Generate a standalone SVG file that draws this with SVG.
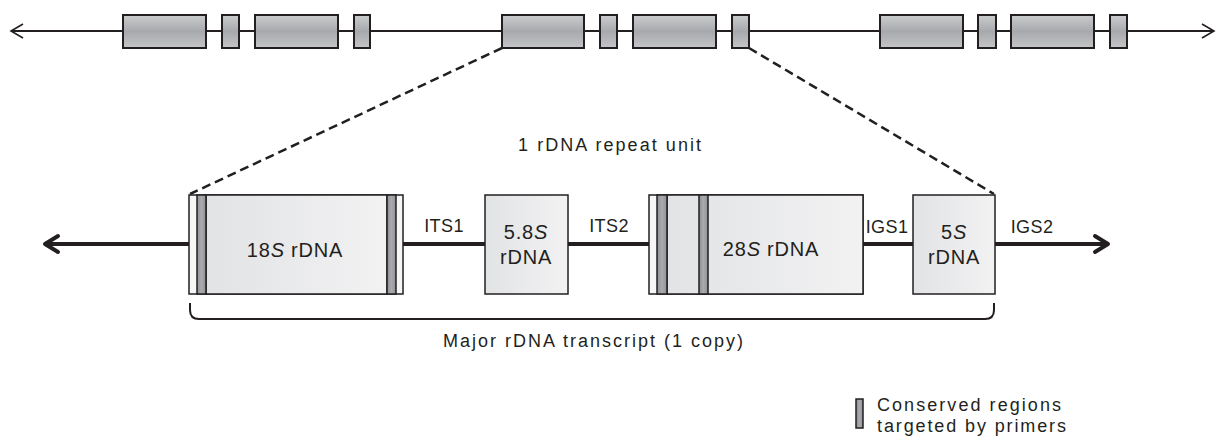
<svg xmlns="http://www.w3.org/2000/svg" width="1223" height="441" viewBox="0 0 1223 441">
  <defs>
    <linearGradient id="unitFill" x1="0" y1="0" x2="0" y2="1">
      <stop offset="0" stop-color="#caccce"/>
      <stop offset="0.5" stop-color="#a7a9ac"/>
      <stop offset="1" stop-color="#c3c5c7"/>
    </linearGradient>
    <linearGradient id="geneFill" x1="0" y1="0" x2="1" y2="0">
      <stop offset="0" stop-color="#e2e3e5"/>
      <stop offset="1" stop-color="#f2f2f3"/>
    </linearGradient>
    <linearGradient id="primerFill" x1="0" y1="0" x2="1" y2="0">
      <stop offset="0" stop-color="#8e9093"/>
      <stop offset="0.5" stop-color="#a9abae"/>
      <stop offset="1" stop-color="#8e9093"/>
    </linearGradient>
    <style>
      .axis { stroke: #231f20; stroke-width: 2; fill: none; }
      .head { stroke: #231f20; stroke-width: 1.6; fill: none; }
      .unit { fill: url(#unitFill); stroke: #231f20; stroke-width: 2; }
      .zoom { stroke: #231f20; stroke-width: 2.5; stroke-dasharray: 9 5; fill: none; }
      .spacer { stroke: #231f20; stroke-width: 4; fill: none; }
      .bighead { stroke: #231f20; stroke-width: 4; fill: none; stroke-linecap: round; stroke-linejoin: round; }
      .gene { fill: url(#geneFill); stroke: #231f20; stroke-width: 1.5; }
      .flank { fill: #f6f6f6; stroke: #231f20; stroke-width: 1.5; }
      .primer { fill: url(#primerFill); stroke: #231f20; stroke-width: 1.5; }
      .brace { stroke: #231f20; stroke-width: 2; fill: none; }
      text { font-family: "Liberation Sans", Arial, sans-serif; fill: #231f20; }
      .lbl { font-size: 18px; }
      .glbl { font-size: 20px; text-anchor: middle; letter-spacing: 0.8px; }
      .slbl { font-size: 18px; text-anchor: middle; letter-spacing: 0.4px; }
    </style>
  </defs>

  <!-- tandem array of repeat units -->
  <g id="array">
    <line class="axis" x1="11" y1="31" x2="1214" y2="31"/>
    <polyline class="head" points="23,24 11,31 23,38"/>
    <polyline class="head" points="1202,24 1214,31 1202,38"/>
    <g id="unit-1">
      <rect class="unit" x="123" y="15" width="83" height="33"/>
      <rect class="unit" x="222" y="15" width="17" height="33"/>
      <rect class="unit" x="255" y="15" width="83" height="33"/>
      <rect class="unit" x="354" y="15" width="16" height="33"/>
    </g>
    <g id="unit-2">
      <rect class="unit" x="502" y="15" width="82" height="33"/>
      <rect class="unit" x="600" y="15" width="17" height="33"/>
      <rect class="unit" x="633" y="15" width="83" height="33"/>
      <rect class="unit" x="732" y="15" width="17" height="33"/>
    </g>
    <g id="unit-3">
      <rect class="unit" x="880" y="15" width="83" height="33"/>
      <rect class="unit" x="978" y="15" width="18" height="33"/>
      <rect class="unit" x="1011" y="15" width="83" height="33"/>
      <rect class="unit" x="1110" y="15" width="17" height="33"/>
    </g>
  </g>

  <!-- expansion lines and spacer connectors -->
  <g id="connectors">
    <line class="zoom" x1="502" y1="48" x2="190" y2="194"/>
    <line class="zoom" x1="749" y1="48" x2="994" y2="194"/>
    <line class="spacer" x1="46" y1="244" x2="189" y2="244"/>
    <polyline class="bighead" points="58,236 45,244 58,252"/>
    <line class="spacer" x1="403" y1="244" x2="485" y2="244"/>
    <line class="spacer" x1="568" y1="244" x2="649" y2="244"/>
    <line class="spacer" x1="863" y1="244" x2="913" y2="244"/>
    <line class="spacer" x1="995" y1="244" x2="1106" y2="244"/>
    <polyline class="bighead" points="1095,236 1108,244 1095,252"/>
  </g>

  <text class="lbl" x="518" y="151" textLength="183" lengthAdjust="spacing">1 rDNA repeat unit</text>

  <g id="gene-18S">
    <rect class="flank" x="189" y="195" width="214" height="99"/>
    <rect class="gene" x="206" y="195" width="181" height="99"/>
    <rect class="primer" x="197" y="195" width="9" height="99"/>
    <rect class="primer" x="387" y="195" width="9" height="99"/>
    <text class="glbl" x="295" y="257">18<tspan font-style="italic">S</tspan> rDNA</text>
  </g>

  <g id="gene-5-8S">
    <rect class="gene" x="485" y="195" width="83" height="99"/>
    <text class="glbl" x="526" y="239">5.8<tspan font-style="italic">S</tspan></text>
    <text class="glbl" x="526" y="264">rDNA</text>
  </g>

  <g id="gene-28S">
    <rect class="flank" x="649" y="195" width="214" height="99"/>
    <rect class="gene" x="667" y="195" width="196" height="99"/>
    <rect class="primer" x="657" y="195" width="10" height="99"/>
    <rect class="primer" x="699" y="195" width="9" height="99"/>
    <text class="glbl" x="771" y="256">28<tspan font-style="italic">S</tspan> rDNA</text>
  </g>

  <g id="gene-5S">
    <rect class="gene" x="913" y="195" width="82" height="99"/>
    <text class="glbl" x="954" y="239">5<tspan font-style="italic">S</tspan></text>
    <text class="glbl" x="954" y="264">rDNA</text>
  </g>

  <g id="spacer-labels">
    <text class="slbl" x="444" y="232">ITS1</text>
    <text class="slbl" x="609" y="232">ITS2</text>
    <text class="slbl" x="887" y="233">IGS1</text>
    <text class="slbl" x="1032" y="233" font-size="20">IGS2</text>
  </g>

  <g id="transcript">
    <path class="brace" d="M190,303 V310 Q190,319 199,319 H985 Q994,319 994,310 V303"/>
    <text class="lbl" x="443" y="347" textLength="300" lengthAdjust="spacing">Major rDNA transcript (1 copy)</text>
  </g>

  <g id="legend">
    <rect class="primer" x="856" y="399" width="7" height="29"/>
    <text class="lbl" x="877" y="411" font-size="17" textLength="184" lengthAdjust="spacing">Conserved regions</text>
    <text class="lbl" x="877" y="432" font-size="17" textLength="189" lengthAdjust="spacing">targeted by primers</text>
  </g>
</svg>
